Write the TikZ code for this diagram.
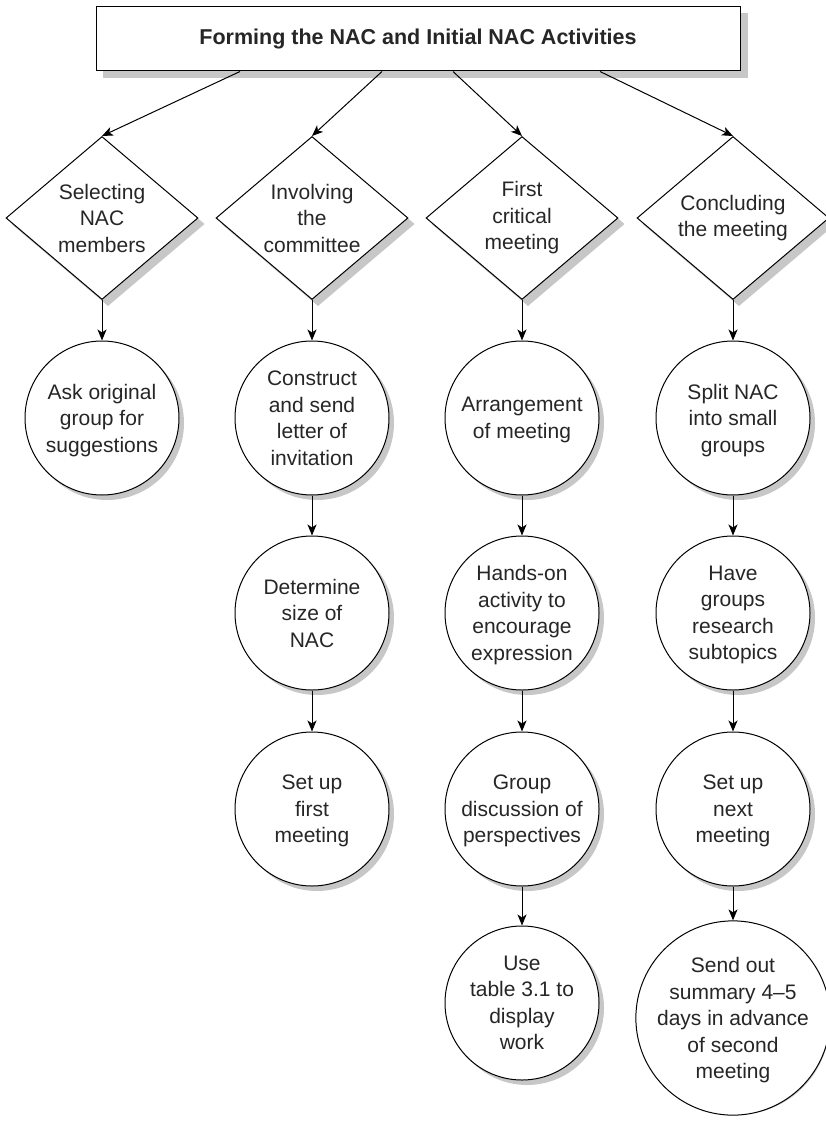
\documentclass[tikz,border=0pt]{standalone}
\usepackage{fontspec}
\setmainfont{Liberation Sans}
\usetikzlibrary{shapes.geometric,arrows.meta,backgrounds}
\begin{document}
\begin{tikzpicture}[x=1pt,y=-1pt,
 every node/.style={font=\fontsize{21}{26.5}\selectfont, align=center, text=black!85},
 titlebox/.style={rectangle, draw, fill=white, line width=1pt, minimum width=644pt, minimum height=64pt,
   font=\fontsize{21.5}{26}\selectfont\bfseries},
 topic/.style={diamond, draw, fill=white, line width=1pt, minimum width=192pt, minimum height=163pt,
   inner sep=0pt, aspect=1.18},
 task/.style={circle, draw, fill=white, line width=1pt, minimum size=154pt, inner sep=0pt,
   text depth=-3pt},
 arr/.style={line width=1pt, -{Stealth[length=11pt,width=9pt,inset=3pt]}},
 shadowfill/.style={fill=black!22, draw=none},
]
\useasboundingbox (0,0) rectangle (826,1129);

\node[titlebox] (title) at (418,39) {Forming the NAC and Initial NAC Activities};

\coordinate (t1) at ([xshift=-178pt]title.south);
\coordinate (t2) at ([xshift=-36pt]title.south);
\coordinate (t3) at ([xshift=35pt]title.south);
\coordinate (t4) at ([xshift=182pt]title.south);

\node[topic] (d1) at (102,218) {Selecting\\NAC\\members};
\node[topic] (d2) at (312,218) {Involving\\the\\committee};
\node[topic] (d3) at (522,218) {First\\critical\\meeting};
\node[topic] (d4) at (733,218) {Concluding\\the meeting};

% column 1
\node[task] (a1) at (102,418) {Ask original\\group for\\suggestions};
% column 2
\node[task] (b1) at (312,418) {Construct\\and send\\letter of\\invitation};
\node[task] (b2) at (312,613) {Determine\\size of\\NAC};
\node[task] (b3) at (312,809) {Set up\\first\\meeting};
% column 3
\node[task] (c1) at (522,418) {Arrangement\\of meeting};
\node[task] (c2) at (522,613) {Hands-on\\activity to\\encourage\\expression};
\node[task] (c3) at (522,809) {Group\\discussion of\\perspectives};
\node[task] (c4) at (522,1003) {Use\\table 3.1 to\\display\\work};
% column 4
\node[task] (e1) at (733,418) {Split NAC\\into small\\groups};
\node[task] (e2) at (733,613) {Have\\groups\\research\\subtopics};
\node[task] (e3) at (733,809) {Set up\\next\\meeting};
\node[task, minimum size=183pt] (e4) at (733,1018) {Send out\\summary 4--5\\days in advance\\of second\\meeting};

% shadows
\begin{scope}[on background layer]
  \fill[shadowfill] ([shift={(7,7)}]title.north west) rectangle ([shift={(7,7)}]title.south east);
  \foreach \dn in {d1,d2,d3,d4}{
    \fill[shadowfill] ([shift={(6,6)}]\dn.north) -- ([shift={(6,6)}]\dn.east) --
      ([shift={(6,6)}]\dn.south) -- ([shift={(6,6)}]\dn.west) -- cycle;
  }
  \foreach \cn in {a1,b1,b2,b3,c1,c2,c3,c4,e1,e2,e3}{
    \fill[shadowfill] ([shift={(5,5)}]\cn.center) circle (77pt);
  }
  \fill[shadowfill] ([shift={(5,5)}]e4.center) circle (91.5pt);
\end{scope}

\draw[arr] (t1) -- (d1.north);
\draw[arr] (t2) -- (d2.north);
\draw[arr] (t3) -- (d3.north);
\draw[arr] (t4) -- (d4.north);

\draw[arr] (d1.south) -- (a1.north);
\draw[arr] (d2.south) -- (b1.north);
\draw[arr] (b1.south) -- (b2.north);
\draw[arr] (b2.south) -- (b3.north);
\draw[arr] (d3.south) -- (c1.north);
\draw[arr] (c1.south) -- (c2.north);
\draw[arr] (c2.south) -- (c3.north);
\draw[arr] (c3.south) -- (c4.north);
\draw[arr] (d4.south) -- (e1.north);
\draw[arr] (e1.south) -- (e2.north);
\draw[arr] (e2.south) -- (e3.north);
\draw[arr] (e3.south) -- (e4.north);
\end{tikzpicture}
\end{document}
